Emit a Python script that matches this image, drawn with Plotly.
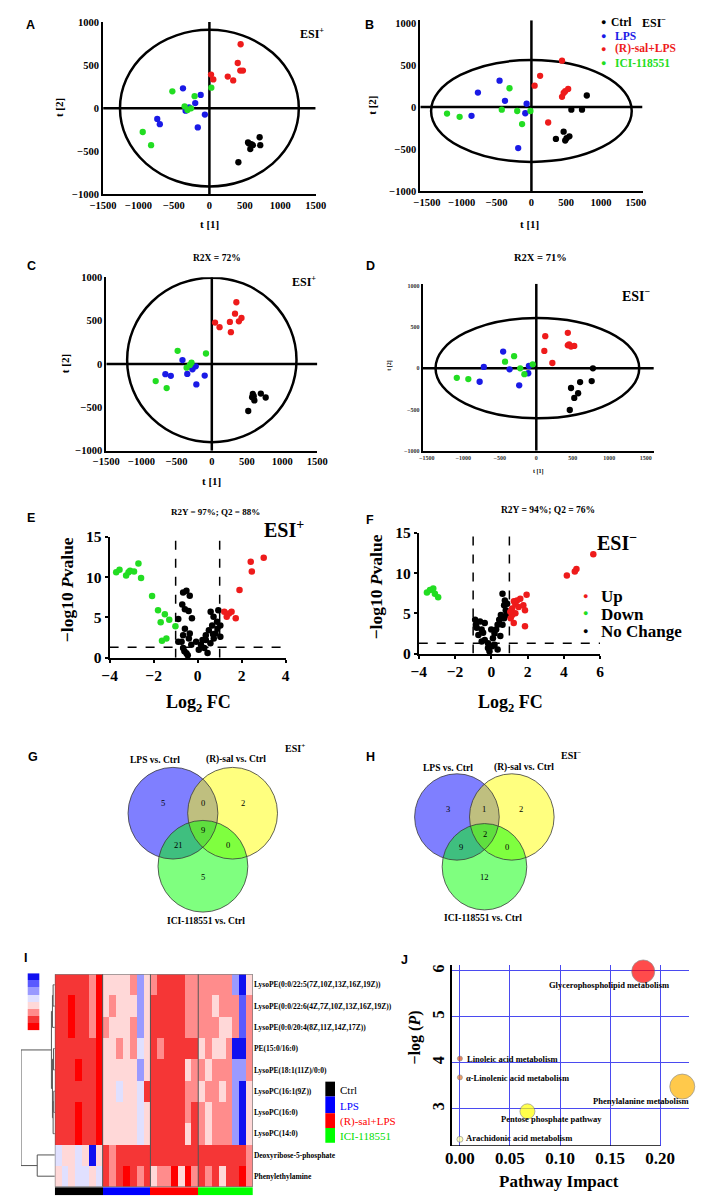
import plotly.graph_objects as go

W, H = 709, 1196
SERIF = "Liberation Serif"
SANS = "Liberation Sans"

GROUPS = ["Ctrl", "LPS", "(R)-sal+LPS", "ICI-118551"]
GROUP_COLORS = ["#000000", "#1A1AE6", "#EE1B1B", "#22DD22"]

# ---------------- PCA scores (t[1], t[2]) ----------------
A_ctrl = [(709, -337), (559, -410), (591, -417), (614, -429), (718, -429), (577, -474), (409, -627), (545, -398)]
A_lps = [(-373, 230), (-123, 154), (-200, 59), (-286, 9), (-336, -29), (-64, -74), (-736, -124), (-700, -185), (-164, -223)]
A_rsal = [(441, 741), (400, 524), (436, 436), (473, 436), (259, 367), (336, 322), (23, 390), (55, 333)]
A_ici = [(27, 238), (-523, 196), (-209, 139), (-350, 21), (-259, -2), (-309, -21), (-941, -276), (-823, -429)]
A_ellipse = (0, 0, 1262, 908)

B_ctrl = [(796, 137), (574, -31), (727, -31), (463, -293), (546, -348), (486, -398), (352, -379), (505, -371)]
B_lps = [(-458, 313), (-769, 172), (-380, 74), (-69, 39), (-88, -74), (-861, -105), (-190, -488)]
B_rsal = [(440, 551), (125, 371), (46, 254), (528, 215), (486, 188), (440, 121), (241, -184), (463, 168)]
B_ici = [(-315, 223), (-1213, -78), (-1032, -117), (-426, -31), (-204, -47), (-14, -47), (-134, -203)]
B_ellipse = (0, -47, 1442, 605)

C_ctrl = [(583, -345), (697, -341), (766, -386), (573, -383), (605, -420), (518, -542), (596, -371)]
C_lps = [(-417, 45), (-312, -30), (-275, -61), (-229, -27), (-349, -114), (-101, -133), (-660, -117), (-583, -136), (-220, -235)]
C_rsal = [(349, 712), (330, 580), (46, 477), (110, 424), (257, 485), (385, 492), (422, 530), (271, 367)]
C_ici = [(-486, 152), (-83, 121), (-289, 15), (-358, -42), (-798, -197), (-642, -277), (-312, -11)]
C_ellipse = (0, 47, 1204, 948)

D_ctrl = [(776, 0), (759, -155), (600, -167), (476, -239), (573, -303), (520, -359), (459, -506)]
D_lps = [(-454, 203), (-719, 16), (-366, -12), (-101, 28), (-110, -60), (-776, -163), (-234, -207)]
D_rsal = [(432, 430), (123, 390), (432, 279), (476, 263), (520, 271), (110, 211), (220, 64), (450, 291)]
D_ici = [(-304, 147), (-428, 80), (-49, 48), (-220, 0), (-163, -72), (-1089, -116), (-931, -131)]
D_ellipse = (15, 2, 1395, 608)

# ---------------- Volcano (log2 FC, -log10 P) ----------------
E_up = [(3.0, 12.4), (2.41, 11.9), (2.46, 10.7), (1.90, 8.4), (1.21, 5.7), (1.42, 5.5), (1.54, 5.7), (1.73, 4.9), (1.32, 5.1)]
E_down = [(-3.70, 10.6), (-3.55, 10.9), (-3.25, 10.2), (-3.14, 10.6), (-3.07, 10.8), (-2.89, 10.7), (-2.69, 11.7),
          (-2.57, 9.9), (-2.07, 7.65), (-1.80, 5.9), (-1.49, 5.4), (-1.29, 4.7), (-1.68, 4.4), (-1.01, 3.9),
          (-1.62, 2.1), (-1.42, 2.4)]
E_nc = [(-0.66, 8.1), (-0.51, 8.3), (-0.36, 7.7), (-0.70, 6.6), (-0.58, 6.0), (-0.41, 5.8), (-0.26, 4.9), (-0.88, 4.8),
        (-0.58, 3.6), (-0.36, 3.0), (-0.66, 2.8), (-0.73, 2.0), (-0.88, 2.0), (-0.66, 1.2), (-0.51, 0.55), (-0.29, 1.6),
        (-0.07, 2.0), (-0.45, 0.3), (-0.6, 0.8), (-0.4, 2.4), (0.37, 2.2), (0.73, 2.4), (0.58, 1.8), (0.59, 5.7),
        (0.72, 5.1), (0.94, 5.9), (0.88, 4.45), (0.66, 4.0), (0.51, 3.4), (0.37, 2.8), (0.22, 2.2), (0.81, 3.0),
        (1.03, 2.6), (0.15, 1.6), (1.03, 4.0), (0.05, 1.0), (0.3, 1.2), (0.45, 0.6), (0.9, 3.6), (0.7, 2.9)]

F_up = [(5.63, 12.35), (4.70, 10.5), (4.61, 10.2), (4.17, 9.7), (1.95, 7.3), (1.6, 6.8), (1.42, 6.6), (1.77, 6.0),
        (1.86, 5.4), (1.15, 5.6), (1.33, 5.0), (1.07, 4.4), (1.24, 3.8), (1.86, 3.4), (1.33, 6.1), (1.51, 5.8),
        (1.15, 4.8), (1.25, 6.5), (1.05, 5.2)]
F_down = [(-3.55, 7.6), (-3.38, 7.9), (-3.2, 8.1), (-3.11, 7.45), (-2.93, 7.0)]
F_nc = [(-0.89, 4.2), (-0.62, 4.0), (-0.36, 3.8), (-0.80, 3.2), (-0.53, 3.0), (-0.71, 2.3), (-0.36, 1.7), (-0.18, 1.3),
        (-0.53, 1.5), (-0.18, 0.7), (0.18, 1.1), (0.35, 0.5), (-0.85, 3.6), (-0.45, 2.6), (-0.1, 0.3), (0.05, 0.9),
        (0.62, 7.45), (0.71, 6.0), (0.80, 5.4), (0.53, 4.8), (0.44, 4.2), (0.35, 3.6), (0.27, 3.0), (0.18, 2.5),
        (0.09, 1.9), (0.62, 3.6), (0.71, 4.4), (0.88, 6.2), (0.0, 3.0), (0.85, 4.8), (0.75, 6.6), (0.5, 2.2)]
FC_CUT = 1.0
P_CUT = 1.3

# ---------------- Venn counts ----------------
VENN_REGIONS = ["LPS only", "LPS&Rsal", "Rsal only", "all", "LPS&ICI", "Rsal&ICI", "ICI only"]
G_counts = [5, 0, 2, 9, 21, 0, 5]
H_counts = [3, 1, 2, 2, 9, 0, 12]
VENN_SETS = ["LPS vs. Ctrl", "(R)-sal vs. Ctrl", "ICI-118551 vs. Ctrl"]

# ---------------- Heatmap ----------------
HM_ROWS = ["LysoPE(0:0/22:5(7Z,10Z,13Z,16Z,19Z))", "LysoPE(0:0/22:6(4Z,7Z,10Z,13Z,16Z,19Z))",
           "LysoPE(0:0/20:4(8Z,11Z,14Z,17Z))", "PE(15:0/16:0)", "LysoPE(18:1(11Z)/0:0)", "LysoPC(16:1(9Z))",
           "LysoPC(16:0)", "LysoPC(14:0)", "Deoxyribose-5-phosphate", "Phenylethylamine"]
HM_GROUP_N = [7, 7, 7, 8]
HM_LEVELS = [
    [7, 7, 7, 7, 7, 6, 8,  5, 5, 5, 5, 6, 3, 5,  6, 7, 7, 7, 7, 6, 6,  6, 6, 6, 6, 6, 3, 1, 5],
    [7, 7, 8, 7, 7, 6, 8,  5, 6, 5, 5, 5, 3, 5,  7, 7, 7, 7, 7, 6, 6,  6, 6, 5, 6, 6, 6, 2, 6],
    [7, 7, 8, 7, 7, 6, 8,  6, 5, 5, 5, 6, 3, 5,  7, 7, 7, 7, 7, 6, 6,  6, 6, 6, 5, 5, 6, 2, 6],
    [7, 7, 7, 7, 7, 7, 8,  5, 5, 6, 5, 6, 4, 5,  7, 6, 7, 7, 7, 7, 7,  5, 6, 5, 5, 6, 1, 1, 6],
    [7, 7, 7, 8, 7, 7, 8,  5, 5, 5, 5, 5, 3, 5,  7, 7, 7, 7, 7, 5, 6,  6, 5, 6, 6, 6, 3, 3, 6],
    [7, 7, 7, 7, 7, 7, 8,  5, 5, 4, 5, 5, 4, 7,  7, 7, 7, 7, 7, 6, 6,  5, 6, 6, 5, 6, 3, 1, 5],
    [7, 7, 7, 8, 7, 7, 8,  5, 5, 5, 5, 5, 4, 5,  7, 7, 7, 7, 7, 6, 7,  6, 5, 6, 6, 6, 3, 1, 5],
    [7, 7, 7, 8, 7, 7, 8,  5, 5, 5, 5, 5, 4, 5,  7, 7, 7, 7, 7, 5, 7,  6, 5, 6, 6, 6, 3, 1, 5],
    [4, 5, 5, 4, 5, 1, 5,  7, 6, 7, 7, 7, 7, 7,  7, 7, 7, 7, 7, 7, 7,  7, 7, 7, 7, 7, 7, 7, 6],
    [5, 4, 5, 4, 4, 5, 4,  7, 6, 7, 8, 7, 6, 7,  5, 6, 6, 8, 5, 8, 6,  7, 6, 7, 5, 7, 7, 8, 6],
]
HM_COLORS = ["#1010F0", "#5A5AFF", "#9A9AFF", "#E0E0FF", "#FFD8D8", "#FF8C8C", "#F53636", "#FF0000"]
# row dendrogram merges: (child a, child b, height); leaves 0..9
DENDRO_LINKS = [(0, 1, 0.05), (10, 2, 0.07), (3, 4, 0.04), (5, 6, 0.03), (13, 7, 0.05), (12, 14, 0.07),
                (11, 15, 0.1), (8, 9, 0.52), (16, 17, 1.0)]

# ---------------- Pathway analysis ----------------
J_names = ["Glycerophospholipid metabolism", "Phenylalanine metabolism", "Pentose phosphate pathway",
           "Linoleic acid metabolism", "α-Linolenic acid metabolism", "Arachidonic acid metabolism"]
J_impact = [0.183, 0.222, 0.0674, 0.0, 0.0, 0.0]
J_logp = [5.99, 3.48, 2.94, 4.09, 3.68, 2.33]
J_size = [23, 25, 15, 5, 5, 6]
J_colors = ["#FF0000", "#FFB300", "#FFFF00", "#E0501A", "#E8762A", "#FFFFA0"]

# =====================================================================
fig = go.Figure()
layout = {}
shapes = []
annotations = []


def axname(n):
    return ("x" if n == 1 else f"x{n}"), ("y" if n == 1 else f"y{n}")


def add_axes(n, xpx, ypx, xr, yr, xo=None, yo=None):
    xs, ys = axname(n)
    xa = dict(domain=[xpx[0] / W, xpx[1] / W], range=list(xr), anchor=ys, showgrid=False, zeroline=False,
              fixedrange=True)
    ya = dict(domain=[1 - ypx[1] / H, 1 - ypx[0] / H], range=list(yr), anchor=xs, showgrid=False, zeroline=False,
              fixedrange=True)
    xa.update(xo or {})
    ya.update(yo or {})
    layout["xaxis" if n == 1 else f"xaxis{n}"] = xa
    layout["yaxis" if n == 1 else f"yaxis{n}"] = ya
    return xs, ys


def ann(text, x, y, size, family=SERIF, bold=True, color="black", xanchor="center", yanchor="middle", angle=0):
    annotations.append(dict(text=text, x=x / W, y=1 - y / H, xref="paper", yref="paper", showarrow=False,
                            font=dict(family=family, size=size, color=color, weight="bold" if bold else "normal"),
                            xanchor=xanchor, yanchor=yanchor, textangle=angle))


def tickfont(size, color="black"):
    return dict(family=SERIF, size=size, color=color, weight="bold")


# ---------------- PCA panels ----------------
pca_specs = [
    (1, (85, 305), (5, 180), (-1500, 1500), (-1000, 1000), [A_ctrl, A_lps, A_rsal, A_ici], A_ellipse, 10.5, "black"),
    (2, (413.3, 643.3), (3.3, 176.7), (-1597, 1597), (-1000, 1031), [B_ctrl, B_lps, B_rsal, B_ici], B_ellipse, 10.5, "black"),
    (3, (88.3, 306.7), (264, 440), (-1500, 1500), (-1000, 1000), [C_ctrl, C_lps, C_rsal, C_ici], C_ellipse, 10.5, "black"),
    (4, (415.7, 655), (270.7, 440), (-1557, 1610), (-1000, 1024), [D_ctrl, D_lps, D_rsal, D_ici], D_ellipse, 6, "#333333"),
]
for n, xpx, ypx, xr, yr, data, ell, fs, fc in pca_specs:
    xo = dict(showline=True, linewidth=2, linecolor="black", ticks="", tickvals=[-1500, -1000, -500, 0, 500, 1000, 1500],
              tickfont=tickfont(fs, fc))
    yo = dict(showline=True, linewidth=2, linecolor="black", ticks="", tickvals=[-1000, -500, 0, 500, 1000],
              tickfont=tickfont(fs, fc))
    xs, ys = add_axes(n, xpx, ypx, xr, yr, xo, yo)
    shapes.append(dict(type="line", xref=xs, yref=ys, x0=0, x1=0, y0=yr[0], y1=yr[1], layer="below",
                       line=dict(color="black", width=2.5)))
    shapes.append(dict(type="line", xref=xs, yref=ys, x0=xr[0], x1=xr[1], y0=0, y1=0, layer="below",
                       line=dict(color="black", width=2.5)))
    cx, cy, rx, ry = ell
    shapes.append(dict(type="circle", xref=xs, yref=ys, x0=cx - rx, x1=cx + rx, y0=cy - ry, y1=cy + ry,
                       layer="below", line=dict(color="black", width=2.5)))
    for pts, col in zip(data, GROUP_COLORS):
        fig.add_trace(go.Scatter(x=[p[0] for p in pts], y=[p[1] for p in pts], mode="markers",
                                 marker=dict(size=6.3, color=col), xaxis=xs, yaxis=ys, showlegend=False,
                                 hoverinfo="skip"))

# PCA texts
ann("t [2]", 40, 91.7, 11, angle=-90)
ann("t [1]", 195, 210, 11)
ann("ESI<sup>+</sup>", 301.7, 16.7, 12)
ann("t [2]", 363.3, 90, 11, angle=-90)
ann("t [1]", 526.7, 210, 11)
ann("ESI<sup>−</sup>", 655, 6, 12)
legend_y = [5, 19, 32.3, 46.7]
for g, col, yy in zip(GROUPS, GROUP_COLORS, legend_y):
    ann("●", 603.3, yy, 9, family=SANS, bold=False, color=col)
    ann(g, 608.5 if g == "Ctrl" else 612.5, yy, 11.5, color=col, xanchor="left")
ann("R2X = 72%", 203, 244, 9.5)
ann("t [2]", 45, 351.7, 11, angle=-90)
ann("ESI<sup>+</sup>", 293, 268, 12)
ann("t [1]", 197, 471, 11)
ann("R2X = 71%", 537.7, 244, 10.5)
ann("ESI<sup>−</sup>", 636.7, 281.7, 14)
ann("t [2]", 381.7, 353, 6, angle=-90)
ann("t [1]", 536, 461, 6)

# ---------------- Volcano panels ----------------
vol_specs = [
    (5, (91.7, 274), (527.3, 650), (-4, 4), (0, 15), E_up, E_down, E_nc, [-4, -2, 0, 2, 4]),
    (6, (411.7, 599.3), (523.3, 645.8), (-4, 6), (0, 15), F_up, F_down, F_nc, [-4, -2, 0, 2, 4, 6]),
]
for n, xpx, ypx, xr, yr, up, down, nc, xt in vol_specs:
    xo = dict(showline=True, linewidth=2, linecolor="black", ticks="outside", ticklen=3, tickwidth=2,
              tickcolor="black", tickvals=xt, tickfont=tickfont(15.5))
    yo = dict(showline=True, linewidth=2, linecolor="black", ticks="outside", ticklen=3, tickwidth=2,
              tickcolor="black", tickvals=[0, 5, 10, 15], tickfont=tickfont(15.5))
    xs, ys = add_axes(n, xpx, ypx, xr, yr, xo, yo)
    for xv in (-FC_CUT, FC_CUT):
        shapes.append(dict(type="line", xref=xs, yref=ys, x0=xv, x1=xv, y0=yr[0], y1=yr[1], layer="below",
                           line=dict(color="black", width=1.5, dash="dash")))
    shapes.append(dict(type="line", xref=xs, yref=ys, x0=xr[0], x1=xr[1], y0=P_CUT, y1=P_CUT, layer="below",
                       line=dict(color="black", width=1.5, dash="dash")))
    for pts, col in ((nc, "#000000"), (down, "#22DD22"), (up, "#EE1B1B")):
        fig.add_trace(go.Scatter(x=[p[0] for p in pts], y=[p[1] for p in pts], mode="markers",
                                 marker=dict(size=6.5, color=col), xaxis=xs, yaxis=ys, showlegend=False,
                                 cliponaxis=False, hoverinfo="skip"))

ann("R2Y = 97%; Q2 = 88%", 201.7, 501.7, 9)
ann("ESI<sup>+</sup>", 271.7, 519, 20)
ann("−log10 <i>P</i>value", 47, 581, 17.5, angle=-90)
ann("Log<sub>2</sub> FC", 183.3, 696.7, 18)
ann("R2Y = 94%; Q2 = 76%", 545, 500, 9.5)
ann("ESI<sup>−</sup>", 616.7, 533, 20)
ann("−log10 <i>P</i>value", 367, 578, 17.5, angle=-90)
ann("Log<sub>2</sub> FC", 506.7, 696.7, 18)
for lab, col, yy in (("Up", "#EE1B1B", 587), ("Down", "#22DD22", 605), ("No Change", "#000000", 622.5)):
    ann("●", 584, yy, 9, family=SANS, bold=False, color=col)
    ann(lab, 598, yy + 1, 17, xanchor="left")

# ---------------- Venn diagrams ----------------
venn_specs = [
    (((157.3, 807.7), (219, 807.7), (188.3, 861.5)), 46.5,
     [(147.3, 797.7), (188.3, 797.7), (229.3, 797.7), (188.3, 825), (162.7, 840), (214, 840), (188.3, 872)],
     G_counts, [(138.3, 753.3), (222.7, 753.3), (191.7, 916.7)], ("ESI<sup>+</sup>", 283.3, 742)),
    (((451.2, 811.5), (508, 811.5), (479.7, 862)), 43.8,
     [(441.7, 803.3), (479.3, 803.3), (517.3, 803.3), (480, 828.3), (455.7, 841.7), (503.3, 841.7), (480, 872)],
     H_counts, [(441.7, 761.7), (520.7, 761.7), (478.3, 914.3)], ("ESI<sup>−</sup>", 569, 749)),
]
venn_fill = ["#0000FF", "#FFFF00", "#00FF00"]
for centers, r, lpos, counts, spos, esi in venn_specs:
    for (cx, cy), fc in zip(centers, venn_fill):
        shapes.append(dict(type="circle", xref="paper", yref="paper", x0=(cx - r) / W, x1=(cx + r) / W,
                           y0=1 - (cy + r) / H, y1=1 - (cy - r) / H, fillcolor=fc, opacity=0.5,
                           line=dict(width=0)))
    for (cx, cy) in centers:
        shapes.append(dict(type="circle", xref="paper", yref="paper", x0=(cx - r) / W, x1=(cx + r) / W,
                           y0=1 - (cy + r) / H, y1=1 - (cy - r) / H, line=dict(color="#3A3A3A", width=0.8)))
    for (x, y), c in zip(lpos, counts):
        ann(str(c), x, y, 8.5, bold=False)
    for (x, y), s in zip(spos, VENN_SETS):
        ann(s, x, y, 9.5)
    ann(esi[0], esi[1], esi[2], 10)

# ---------------- Heatmap (I) ----------------
ncol = sum(HM_GROUP_N)
nrow = len(HM_ROWS)
cs = []
for i, c in enumerate(HM_COLORS):
    cs.append([i / len(HM_COLORS), c])
    cs.append([(i + 1) / len(HM_COLORS), c])
xs, ys = add_axes(8, (35, 240), (971, 1186.7), (-0.5, ncol - 0.5), (nrow - 0.5, -0.5),
                  dict(showticklabels=False, ticks=""),
                  dict(side="right", tickvals=list(range(nrow)), ticktext=HM_ROWS, ticks="",
                       tickfont=tickfont(7.5)))
fig.add_trace(go.Heatmap(z=HM_LEVELS, x=list(range(ncol)), y=list(range(nrow)), colorscale=cs, zmin=0.5,
                         zmax=len(HM_COLORS) + 0.5, showscale=False, xaxis=xs, yaxis=ys, hoverinfo="skip"))
shapes.append(dict(type="rect", xref=xs, yref=ys, x0=-0.5, x1=ncol - 0.5, y0=-0.5, y1=nrow - 0.5,
                   line=dict(color="#555555", width=1)))
b = -0.5
for gn in HM_GROUP_N[:-1]:
    b += gn
    shapes.append(dict(type="line", xref=xs, yref=ys, x0=b, x1=b, y0=-0.5, y1=nrow - 0.5,
                       line=dict(color="#555555", width=1)))

# column group bar
grp_idx = []
for gi, gn in enumerate(HM_GROUP_N):
    grp_idx += [gi] * gn
gcs = []
for i, c in enumerate(["#000000", "#0000FF", "#FF0000", "#00FF00"]):
    gcs.append([i / 4, c])
    gcs.append([(i + 1) / 4, c])
xs9, ys9 = add_axes(9, (35, 240), (1187, 1195.5), (-0.5, ncol - 0.5), (-0.5, 0.5),
                    dict(visible=False), dict(visible=False))
fig.add_trace(go.Heatmap(z=[grp_idx], x=list(range(ncol)), y=[0], colorscale=gcs, zmin=-0.5, zmax=3.5,
                         showscale=False, xaxis=xs9, yaxis=ys9, hoverinfo="skip"))

# dendrogram
xs10, ys10 = add_axes(10, (0, 35), (971, 1186.7), (1.0, 0), (nrow - 0.5, -0.5),
                      dict(visible=False), dict(visible=False))
pos = {i: (float(i), 0.0) for i in range(nrow)}
dx, dy = [], []
nid = nrow
for a, c, h in DENDRO_LINKS:
    ya_, ha = pos[a]
    yc_, hc = pos[c]
    dx += [ha, h, h, hc, None]
    dy += [ya_, ya_, yc_, yc_, None]
    pos[nid] = ((ya_ + yc_) / 2, h)
    nid += 1
fig.add_trace(go.Scatter(x=dx, y=dy, mode="lines", line=dict(color="#555555", width=1), xaxis=xs10, yaxis=ys10,
                         showlegend=False, hoverinfo="skip", cliponaxis=False))

# colour key
xs11, ys11 = add_axes(11, (6.7, 19.3), (970, 1028), (-0.5, 0.5), (-0.5, 7.5),
                      dict(visible=False), dict(visible=False))
fig.add_trace(go.Heatmap(z=[[8], [7], [6], [5], [4], [3], [2], [1]], x=[0], y=list(range(8)), colorscale=cs,
                         zmin=0.5, zmax=8.5, showscale=False, xaxis=xs11, yaxis=ys11, hoverinfo="skip"))

# group legend for heatmap
leg_rows = [(1080, 1095), (1095, 1112), (1112, 1127), (1127, 1142)]
for (y0, y1), g, col in zip(leg_rows, GROUPS, ["#000000", "#0000FF", "#FF0000", "#00FF00"]):
    shapes.append(dict(type="rect", xref="paper", yref="paper", x0=315 / W, x1=325 / W, y0=1 - y1 / H,
                       y1=1 - y0 / H, fillcolor=col, line=dict(width=0)))
    ann(g, 328.5, (y0 + y1) / 2 + 1, 11, color=col if g != "ICI-118551" else "#00DD00", xanchor="left",
        bold=False)

# ---------------- Pathway analysis (J) ----------------
xs7, ys7 = add_axes(7, (446, 691.7), (961.7, 1145), (-0.008, 0.229), (2.19, 6.13),
                    dict(showgrid=True, gridcolor="#4A4AF0", gridwidth=1, tickvals=[0, 0.05, 0.10, 0.15, 0.20],
                         ticktext=["0.00", "0.05", "0.10", "0.15", "0.20"], ticks="", tickfont=tickfont(17)),
                    dict(showgrid=True, gridcolor="#4A4AF0", gridwidth=1, tickvals=[3, 4, 5, 6], ticks="",
                         tickangle=-90, showline=True, linecolor="black", linewidth=1.5, tickfont=tickfont(16)))
shapes.append(dict(type="line", xref=xs7, yref=ys7, x0=-0.008, x1=0.2, y0=2.19, y1=2.19,
                   line=dict(color="black", width=1.5)))
fig.add_trace(go.Scatter(x=J_impact, y=J_logp, mode="markers",
                         marker=dict(size=J_size, color=J_colors, line=dict(color="#666666", width=0.7)),
                         xaxis=xs7, yaxis=ys7, showlegend=False, cliponaxis=False, hoverinfo="skip"))
J_label_offsets = [(-34, 14, "center"), (-41, 14, "center"), (24, 8, "center"), (5, 0, "left"), (4, 1, "left"),
                   (4, -1.5, "left")]
for name, xv, yv, (ox, oy, anc) in zip(J_names, J_impact, J_logp, J_label_offsets):
    annotations.append(dict(text=name, x=xv, y=yv, xref=xs7, yref=ys7, xshift=ox, yshift=-oy, showarrow=False,
                            xanchor=anc, yanchor="middle",
                            font=dict(family=SERIF, size=8.5, color="black", weight="bold")))
ann("−log (<i>P</i>)", 408, 1035, 16, angle=-90)
ann("Pathway Impact", 556.7, 1181.7, 17)

# ---------------- Panel letters ----------------
for lab, x, y in (("A", 10, 8), ("B", 361, 8), ("C", 11, 253), ("D", 361.7, 253), ("E", 10, 508),
                  ("F", 361.7, 510), ("G", 12, 750.7), ("H", 361.7, 750.7), ("I", 5, 955), ("J", 396.7, 956.7)):
    ann(lab, x, y, 12.5, family=SANS)

fig.update_layout(width=W, height=H, margin=dict(l=0, r=0, t=0, b=0), paper_bgcolor="white",
                  plot_bgcolor="rgba(0,0,0,0)", showlegend=False, shapes=shapes, annotations=annotations,
                  **layout)
fig.write_html("out.html")
